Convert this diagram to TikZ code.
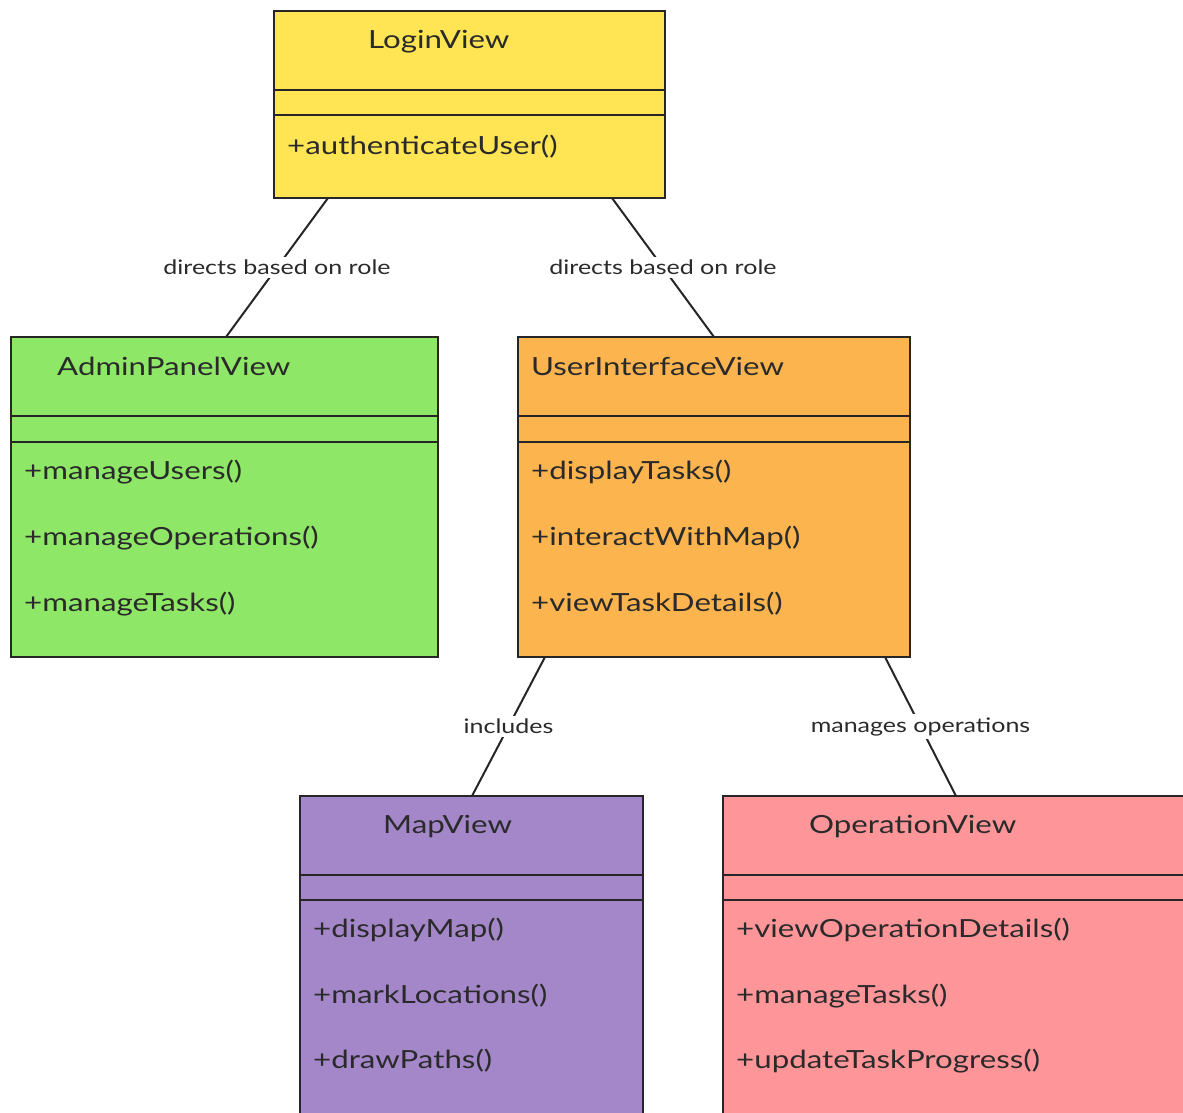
\documentclass[tikz,border=0pt]{standalone}
\usepackage{fontspec}
\setmainfont[FakeStretch=1.25]{Lato}
\definecolor{cyellow}{HTML}{FFE553}
\definecolor{cgreen}{HTML}{8FE767}
\definecolor{corange}{HTML}{FCB44F}
\definecolor{cpurple}{HTML}{A487C9}
\definecolor{cpink}{HTML}{FE9699}
\definecolor{ctext}{HTML}{2A2A2A}
\tikzset{
  umlbox/.style={draw=black!85, line width=2pt, anchor=north west, inner sep=0pt, outer sep=0pt},
  sepline/.style={draw=black!85, line width=1.6pt},
  title/.style={anchor=mid west, inner sep=0pt, yshift=-6pt, font=\fontsize{25}{30}\selectfont, text=ctext},
  meth/.style={anchor=mid west, inner sep=0pt, yshift=-6pt, font=\fontsize{25}{30}\selectfont, text=ctext},
  conn/.style={draw=black!85, line width=2pt},
  lbl/.style={fill=white, inner sep=3pt, font=\fontsize{20}{24}\selectfont, text=ctext}
}
\begin{document}
\begin{tikzpicture}[x=1pt, y=-1pt]
\useasboundingbox (0,0) rectangle (1183,1112);
\clip (0,0) rectangle (1183,1112);
\fill[white] (0,0) rectangle (1183,1112);

% LoginView
\node[umlbox, fill=cyellow, minimum width=391pt, minimum height=187pt] (login) at (274,11) {};
\draw[sepline] (274,90) -- (665,90);
\draw[sepline] (274,115) -- (665,115);
\node[title] (loginT) at (368,40) {LoginView};
\node[meth] (loginM1) at (287,146) {+authenticateUser()};

% AdminPanelView
\node[umlbox, fill=cgreen, minimum width=427pt, minimum height=320pt] (admin) at (11,337) {};
\draw[sepline] (11,416) -- (438,416);
\draw[sepline] (11,442) -- (438,442);
\node[title] (adminT) at (57,367) {AdminPanelView};
\node[meth] (adminM1) at (24,471) {+manageUsers()};
\node[meth] (adminM2) at (24,537) {+manageOperations()};
\node[meth] (adminM3) at (24,603) {+manageTasks()};

% UserInterfaceView
\node[umlbox, fill=corange, minimum width=392pt, minimum height=320pt] (uiv) at (518,337) {};
\draw[sepline] (518,416) -- (910,416);
\draw[sepline] (518,442) -- (910,442);
\node[title] (uivT) at (531,367) {UserInterfaceView};
\node[meth] (uivM1) at (531,471) {+displayTasks()};
\node[meth] (uivM2) at (531,537) {+interactWithMap()};
\node[meth] (uivM3) at (531,603) {+viewTaskDetails()};

% MapView
\node[umlbox, fill=cpurple, minimum width=343pt, minimum height=340pt] (map) at (300,796) {};
\draw[sepline] (300,875) -- (643,875);
\draw[sepline] (300,900) -- (643,900);
\node[title] (mapT) at (383,825) {MapView};
\node[meth] (mapM1) at (313,929) {+displayMap()};
\node[meth] (mapM2) at (313,995) {+markLocations()};
\node[meth] (mapM3) at (313,1060) {+drawPaths()};

% OperationView
\node[umlbox, fill=cpink, minimum width=480pt, minimum height=340pt] (op) at (723,796) {};
\draw[sepline] (723,875) -- (1200,875);
\draw[sepline] (723,900) -- (1200,900);
\node[title] (opT) at (809,825) {OperationView};
\node[meth] (opM1) at (736,929) {+viewOperationDetails()};
\node[meth] (opM2) at (736,995) {+manageTasks()};
\node[meth] (opM3) at (736,1060) {+updateTaskProgress()};

% connectors
\draw[conn] ([xshift=54pt]login.south west) -- node[lbl] {directs based on role} ([xshift=215pt]admin.north west);
\draw[conn] ([xshift=338pt]login.south west) -- node[lbl] {directs based on role} ([xshift=196pt]uiv.north west);
\draw[conn] ([xshift=27pt]uiv.south west) -- node[lbl] {includes} ([xshift=172pt]map.north west);
\draw[conn] ([xshift=367pt]uiv.south west) -- node[lbl] {manages operations} ([xshift=233pt]op.north west);
\end{tikzpicture}
\end{document}
